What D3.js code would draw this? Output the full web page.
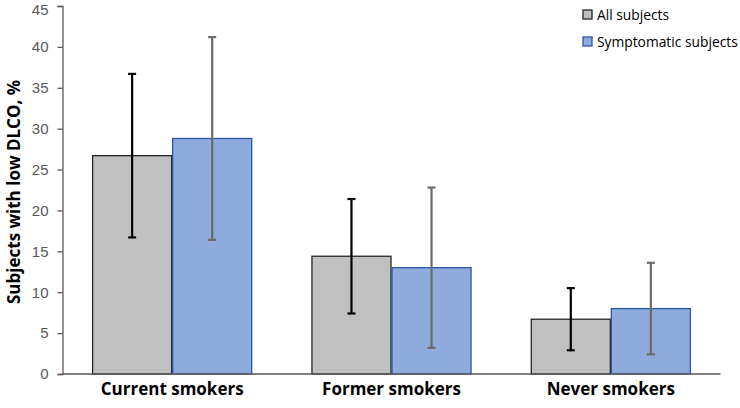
<!DOCTYPE html>
<html>
<head>
<meta charset="utf-8">
<script src="https://cdn.jsdelivr.net/npm/d3@7.9.0/dist/d3.min.js"></script>
<style>
  body { margin: 0; background: #fff; }
  svg { font-family: "Open Sans", "Liberation Sans", sans-serif; }
</style>
</head>
<body>
<svg width="740" height="408"></svg>
<script>
// chart data
const categories = ['Current smokers', 'Former smokers', 'Never smokers'];
const seriesNames = ['All subjects', 'Symptomatic subjects'];
const allValues = [26.7, 14.4, 6.7];
const allLow = [16.7, 7.4, 2.9];
const allHigh = [36.7, 21.4, 10.5];
const sympValues = [28.8, 13.0, 8.0];
const sympLow = [16.4, 3.2, 2.4];
const sympHigh = [41.2, 22.8, 13.6];
const yTicks = [0, 5, 10, 15, 20, 25, 30, 35, 40, 45];

const fills = ['#c0c0c0', '#8faadc'];
const strokes = ['#262626', '#2f55a4'];
const errColors = ['#000000', '#6b6b6b'];

const svg = d3.select('svg');
const margin = { left: 62.5, right: 19.5, top: 6, bottom: 34 };
const W = 740, H = 408;

const x = d3.scaleBand().domain(categories)
  .range([margin.left, W - margin.right])
  .paddingInner(0.27).paddingOuter(0.135);
const xs = d3.scaleBand().domain([0, 1]).range([0, x.bandwidth()]);
const y = d3.scaleLinear().domain([0, 45]).range([H - margin.bottom, margin.top]);

// y axis
const yAxis = svg.append('g')
  .attr('transform', `translate(${margin.left},0)`)
  .call(d3.axisLeft(y).tickValues(yTicks).tickSize(5).tickPadding(9));
yAxis.select('.domain').attr('stroke', '#595959').attr('stroke-width', 1.3);
yAxis.selectAll('.tick line').attr('stroke', '#595959').attr('stroke-width', 1.3);
yAxis.selectAll('.tick text').attr('fill', '#595959').attr('font-size', 15)
  .attr('dy', (d) => (d === 45 ? '0.55em' : '0.32em'));

svg.append('text')
  .attr('transform', `translate(20,${y(22.5) + 2}) rotate(-90)`)
  .attr('text-anchor', 'middle')
  .attr('font-size', 17).attr('font-weight', 'bold').attr('fill', '#000')
  .text('Subjects with low DLCO, %');

const series = [
  { values: allValues, low: allLow, high: allHigh },
  { values: sympValues, low: sympLow, high: sympHigh }
];

series.forEach((s, si) => {
  const g = svg.append('g');
  g.selectAll('rect').data(categories).join('rect')
    .attr('x', (c) => x(c) + xs(si) + 0.5)
    .attr('y', (c, i) => y(s.values[i]))
    .attr('width', xs.bandwidth() - 1)
    .attr('height', (c, i) => y(0) - y(s.values[i]))
    .attr('fill', fills[si])
    .attr('stroke', strokes[si])
    .attr('stroke-width', 1.3);
});

// x axis line
svg.append('line')
  .attr('x1', margin.left).attr('x2', W - margin.right)
  .attr('y1', y(0)).attr('y2', y(0))
  .attr('stroke', '#595959').attr('stroke-width', 1.3);

// error bars
series.forEach((s, si) => {
  const g = svg.append('g').attr('stroke', errColors[si]).attr('stroke-width', 2.2);
  categories.forEach((c, i) => {
    const cx = x(c) + xs(si) + xs.bandwidth() / 2;
    g.append('line').attr('x1', cx).attr('x2', cx)
      .attr('y1', y(s.low[i])).attr('y2', y(s.high[i]));
    [s.low[i], s.high[i]].forEach((v) => {
      g.append('line').attr('x1', cx - 4).attr('x2', cx + 4)
        .attr('y1', y(v)).attr('y2', y(v));
    });
  });
});

// category labels
svg.selectAll('.cat').data(categories).join('text')
  .attr('x', (c) => x(c) + x.bandwidth() / 2)
  .attr('y', 395)
  .attr('text-anchor', 'middle')
  .attr('font-size', 17).attr('font-weight', 'bold').attr('fill', '#000')
  .text((c) => c);

// legend
const leg = svg.append('g').attr('transform', 'translate(583,8)');
seriesNames.forEach((n, i) => {
  leg.append('rect').attr('x', 0).attr('y', i * 27 + 2)
    .attr('width', 9).attr('height', 9)
    .attr('fill', fills[i]).attr('stroke', strokes[i])
    .attr('stroke-width', 1.3);
  leg.append('text').attr('x', 14).attr('y', i * 27 + 12)
    .attr('font-size', 13.8).attr('fill', '#000')
    .text(n);
});
</script>
</body>
</html>
